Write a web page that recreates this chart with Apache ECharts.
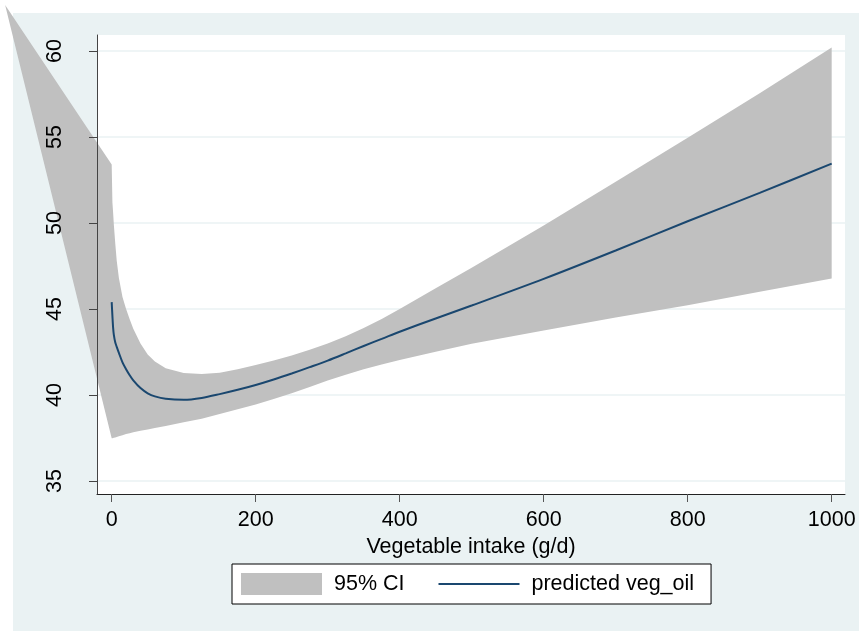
<!DOCTYPE html>
<html>
<head>
<meta charset="utf-8">
<script src="https://cdn.jsdelivr.net/npm/echarts@6/dist/echarts.min.js"></script>
<style>
  html, body { margin: 0; padding: 0; background: #fff; }
  #chart { width: 859px; height: 631px; }
</style>
</head>
<body>
<div id="chart"></div>
<script>
// ==========================================
// Data
// ==========================================
const xValues = [0, 1, 2, 3, 5, 7, 10, 15, 20, 25, 30, 40, 50, 60, 75, 100, 125, 150, 175, 200, 225, 250,
                 275, 300, 325, 350, 375, 400, 450, 500, 600, 700, 800, 900, 1000];
const predicted = [45.4, 44.6, 43.9, 43.5, 43.05, 42.8, 42.45, 41.9, 41.5, 41.15, 40.85, 40.4, 40.1, 39.92, 39.78, 39.72, 39.83, 40.05, 40.3, 40.58, 40.9, 41.25,
                   41.62, 42.0, 42.42, 42.85, 43.26, 43.68, 44.45, 45.2, 46.75, 48.4, 50.1, 51.75, 53.45];
const ciUpper = [53.4, 51.2, 50.6, 49.9, 48.8, 47.8, 46.8, 45.7, 45.0, 44.4, 43.85, 43.0, 42.35, 41.95, 41.55, 41.28, 41.22, 41.3, 41.5, 41.75, 42.0, 42.3,
                 42.63, 43.0, 43.42, 43.9, 44.42, 45.0, 46.2, 47.4, 49.85, 52.4, 54.95, 57.55, 60.2];
const ciLower = [37.48, 37.49, 37.5, 37.51, 37.53, 37.56, 37.6, 37.66, 37.73, 37.78, 37.83, 37.92, 38.0, 38.08, 38.2, 38.42, 38.62, 38.9, 39.17, 39.45, 39.77, 40.1,
                 40.47, 40.85, 41.18, 41.5, 41.78, 42.03, 42.52, 42.98, 43.75, 44.5, 45.22, 46.0, 46.78];
// the band also runs out to a single point left of the axis
const ciTipX = -148;
const ciTipY = 62.67;

const xTicks = [0, 200, 400, 600, 800, 1000];
const yTicks = [35, 40, 45, 50, 55, 60];

// ==========================================
// Style
// ==========================================
const FONT = 'Liberation Sans, Arial, sans-serif';
const BG = '#EAF2F3';
const BAND = '#C0C0C0';
const LINE = '#1A476F';

const X_MIN = -20.4, X_MAX = 1018.5;
const Y_MIN = 34.244, Y_MAX = 60.93;

// rows for the band: tip, then each x with its lower/upper bound
const bandRows = [[ciTipX, ciTipY, ciTipY]].concat(
    xValues.map((x, i) => [x, ciLower[i], ciUpper[i]])
);

function renderBand(params, api) {
    if (params.dataIndex !== 0) return null;
    const n = bandRows.length;
    const pts = [];
    for (let i = 0; i < n; i++) pts.push(api.coord([bandRows[i][0], bandRows[i][2]]));
    for (let i = n - 1; i >= 0; i--) pts.push(api.coord([bandRows[i][0], bandRows[i][1]]));
    return {
        type: 'polygon',
        shape: { points: pts },
        style: { fill: BAND }
    };
}

const chart = echarts.init(document.getElementById('chart'), null, { renderer: 'canvas' });

chart.setOption({
    animation: false,
    backgroundColor: '#fff',
    graphic: [{
        type: 'rect',
        z: -10,
        silent: true,
        shape: { x: 13, y: 13, width: 846, height: 618 },
        style: { fill: BG }
    }],
    grid: {
        left: 97, right: 14, top: 35, bottom: 137,
        show: true, backgroundColor: '#fff', borderWidth: 0
    },
    legend: {
        left: 232, top: 564,
        padding: [9, 17, 9, 9],
        itemWidth: 81, itemHeight: 22, itemGap: 33,
        backgroundColor: '#fff', borderColor: '#000', borderWidth: 1,
        textStyle: { fontFamily: FONT, fontSize: 21.5, color: '#000', padding: [0, 0, 0, 7] },
        data: [
            { name: '95% CI', icon: 'rect' },
            { name: 'predicted veg_oil', itemStyle: { opacity: 0 } }
        ]
    },
    xAxis: {
        type: 'value',
        min: X_MIN, max: X_MAX,
        name: 'Vegetable intake (g/d)',
        nameLocation: 'middle',
        nameGap: 36,
        nameTextStyle: { fontFamily: FONT, fontSize: 21.5, color: '#000' },
        axisLine: { show: true, onZero: false, lineStyle: { color: '#222', width: 1 } },
        axisTick: { show: true, length: 8, customValues: xTicks, lineStyle: { color: '#555' } },
        axisLabel: {
            customValues: xTicks, margin: 15,
            fontFamily: FONT, fontSize: 21.5, color: '#000',
            formatter: v => String(v)
        },
        splitLine: { show: false }
    },
    yAxis: [
        {
            // grid lines only, kept under the band
            type: 'value', min: Y_MIN, max: Y_MAX, position: 'right', z: 0,
            axisLine: { show: false },
            axisTick: { show: false, customValues: yTicks },
            axisLabel: { show: false, customValues: yTicks },
            splitLine: { show: true, lineStyle: { color: BG, width: 1.5 } }
        },
        {
            // visible axis, drawn over the band
            type: 'value', min: Y_MIN, max: Y_MAX, position: 'left', z: 5,
            axisLine: { show: true, onZero: false, lineStyle: { color: '#444', width: 1 } },
            axisTick: { show: true, length: 8, customValues: yTicks, lineStyle: { color: '#444' } },
            axisLabel: {
                customValues: yTicks, rotate: 90, margin: 31,
                fontFamily: FONT, fontSize: 21.5, color: '#000',
                formatter: v => String(v)
            },
            splitLine: { show: false }
        }
    ],
    series: [
        {
            name: '95% CI',
            type: 'custom',
            yAxisIndex: 0,
            clip: false,
            z: 2,
            itemStyle: { color: BAND },
            encode: { x: 0, y: [1, 2] },
            data: bandRows,
            renderItem: renderBand
        },
        {
            name: 'predicted veg_oil',
            type: 'line',
            yAxisIndex: 0,
            z: 3,
            symbol: 'none',
            smooth: 0.3,
            color: LINE,
            lineStyle: { color: LINE, width: 2 },
            data: xValues.map((x, i) => [x, predicted[i]])
        }
    ]
});
</script>
</body>
</html>
